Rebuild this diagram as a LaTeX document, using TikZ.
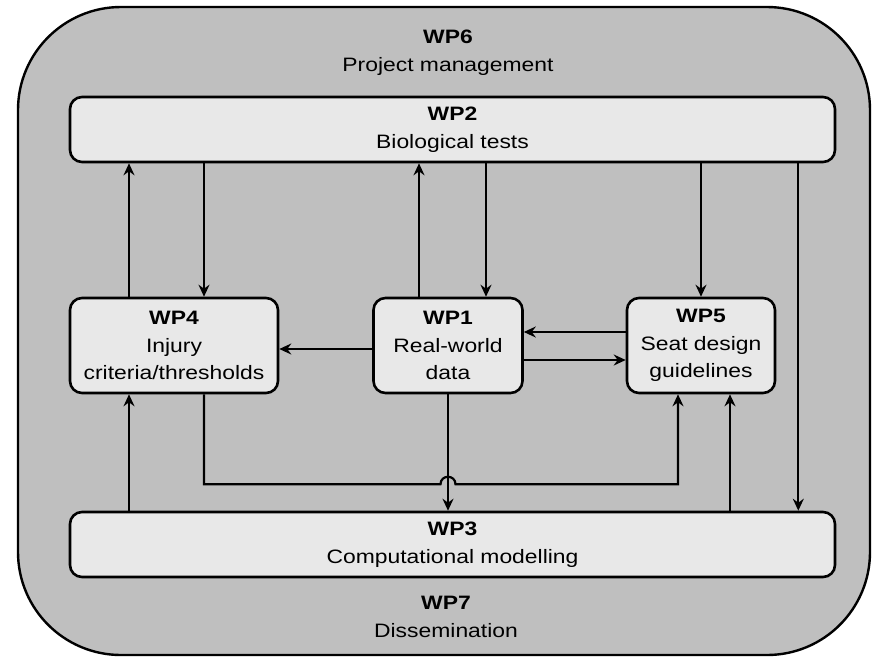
\documentclass[tikz,border=0pt]{standalone}
\usepackage{fontspec}
\setmainfont{Liberation Sans}[FakeStretch=1.18]
\usetikzlibrary{arrows.meta}
\definecolor{wpgrey}{gray}{0.75}
\definecolor{wplight}{gray}{0.91}
\newcommand{\wpfont}{\fontsize{19.4}{27.7}\selectfont}

\begin{document}
\begin{tikzpicture}[x=1pt, y=-1pt,
wpbox/.style={shape=rectangle, rounded corners=12pt, draw, line width=2.6pt, fill=wplight, align=center, inner sep=0pt, font=\wpfont},
wptext/.style={align=center, inner sep=0pt, font=\wpfont},
arr/.style={line width=2.2pt, -{Stealth[length=12pt, width=11pt, inset=4pt]}}]
\useasboundingbox (0,0) rectangle (872,657);
\draw [line width=2.4pt, fill=wpgrey, rounded corners=103pt] (18,7) rectangle (870,655);
\node(wp6)[wptext] at (448,53) {\textbf{WP6}\\Project management};
\node(wp7)[wptext] at (446,617) {\textbf{WP7}\\Dissemination};
\node(wp2)[wpbox, minimum width=765pt, minimum height=65pt] at (452.5,129.5) {\textbf{WP2}\\Biological tests};
\node(wp3)[wpbox, minimum width=765pt, minimum height=65pt] at (452.5,544.5) {\textbf{WP3}\\Computational modelling};
\node(wp4)[wpbox, minimum width=208pt, minimum height=95pt] at (174,345.5) {\textbf{WP4}\\Injury\\criteria/thresholds};
\node(wp1)[wpbox, minimum width=149pt, minimum height=95pt] at (448,345.5) {\textbf{WP1}\\Real-world\\data};
\node(wp5)[wpbox, minimum width=148pt, minimum height=95pt] at (701,345.5) {\textbf{WP5}\\Seat design\\guidelines};
\path (wp1.south) ++(0,90) coordinate (hop);
\draw[arr] ([xshift=-45pt]wp4.north) -- ([xshift=-45pt]wp4.north |- wp2.south);
\draw[arr] ([xshift=30pt]wp4.north |- wp2.south) -- ([xshift=30pt]wp4.north);
\draw[arr] ([xshift=-29pt]wp1.north) -- ([xshift=-29pt]wp1.north |- wp2.south);
\draw[arr] ([xshift=38pt]wp1.north |- wp2.south) -- ([xshift=38pt]wp1.north);
\draw[arr] (wp5.north |- wp2.south) -- (wp5.north);
\draw[arr] ([xshift=-38pt]wp2.south east) -- ([xshift=-38pt]wp2.south east |- wp3.north);
\draw[arr] ([yshift=-3.5pt]wp1.west) -- ([yshift=-3.5pt]wp1.west -| wp4.east);
\draw[arr] ([yshift=13.5pt]wp5.west) -- ([yshift=13.5pt]wp5.west -| wp1.east);
\draw[arr] ([yshift=-14.5pt]wp1.east) -- ([yshift=-14.5pt]wp1.east -| wp5.west);
\draw[arr] (wp1.south) -- (wp1.south |- wp3.north);
\draw[arr] ([xshift=-45pt]wp4.south |- wp3.north) -- ([xshift=-45pt]wp4.south);
\draw[arr] ([xshift=29pt]wp5.south |- wp3.north) -- ([xshift=29pt]wp5.south);
\draw[arr] ([xshift=30pt]wp4.south) |- ([xshift=-7.5pt]hop)
  .. controls +(0,-10) and +(0,-10) .. ([xshift=7.5pt]hop)
  -- ([xshift=-23pt]wp5.south |- hop) -- ([xshift=-23pt]wp5.south);
\end{tikzpicture}
\end{document}
